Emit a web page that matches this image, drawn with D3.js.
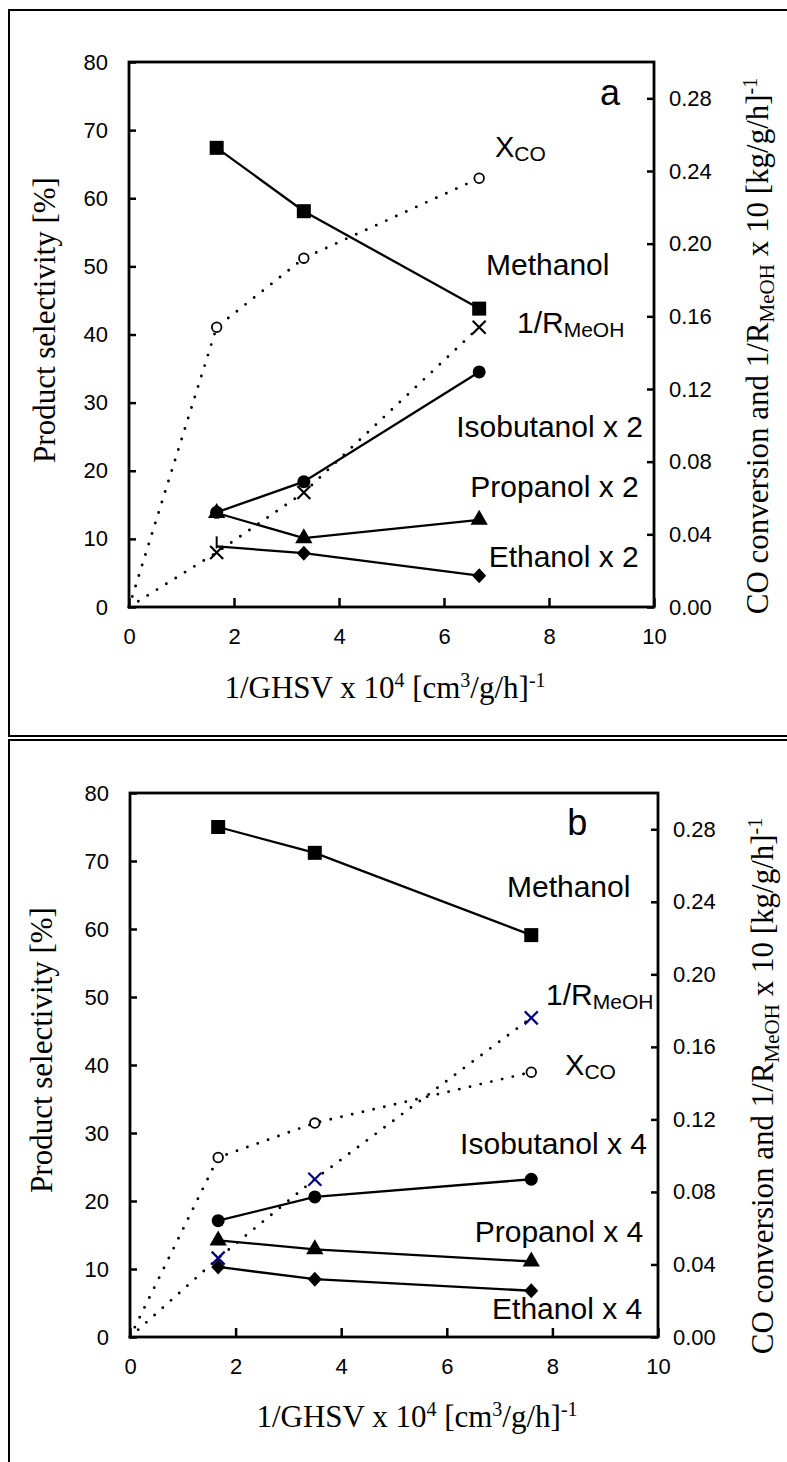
<!DOCTYPE html>
<html>
<head>
<meta charset="utf-8">
<script src="https://cdn.jsdelivr.net/npm/d3@7"></script>
<style>
body { margin: 0; background: #fff; }
svg { display: block; }
.tick text { font-family: "Liberation Sans", Arial, sans-serif; font-size: 22px; fill: #000; }
.tick line { stroke: #000; stroke-width: 2.5; }
.lab { font-family: "Liberation Sans", Arial, sans-serif; fill: #000; }
.ttl { font-family: "Liberation Serif", "Times New Roman", serif; font-size: 31px; fill: #000; }
</style>
</head>
<body>
<svg id="fig" width="787" height="1462"></svg>
<script>
// x tick labels and axis ranges (shared by both panels)
const xTicks = [0, 2, 4, 6, 8, 10];
const leftTicks = [0, 10, 20, 30, 40, 50, 60, 70, 80];
const rightTicks = [0, 0.04, 0.08, 0.12, 0.16, 0.20, 0.24, 0.28];

// panel a : 1/GHSV x 10^4
const xA = [1.67, 3.33, 6.67];
const methanolA = [67.4, 58.1, 43.8];
const isobutanolA = [13.9, 18.4, 34.5];   // x 2
const propanolA = [13.8, 10.1, 12.8];     // x 2
const ethanolA = [8.9, 7.9, 4.6];         // x 2
const xcoA = [0.154, 0.192, 0.236];       // right axis
const invRA = [0.030, 0.063, 0.154];      // right axis

// panel b
const xB = [1.67, 3.5, 7.6];
const methanolB = [75.0, 71.2, 59.1];
const isobutanolB = [17.1, 20.6, 23.2];   // x 4
const propanolB = [14.2, 12.9, 11.1];     // x 4
const ethanolB = [10.3, 8.5, 6.8];        // x 4
const xcoB = [0.099, 0.118, 0.146];
const invRB = [0.0435, 0.087, 0.176];

const svg = d3.select("#fig");

// outer frames (right side runs off the picture)
svg.append("rect").attr("x", 9).attr("y", 10).attr("width", 800).attr("height", 726)
  .attr("fill", "none").attr("stroke", "#000").attr("stroke-width", 2);
svg.append("rect").attr("x", 9).attr("y", 740).attr("width", 800).attr("height", 760)
  .attr("fill", "none").attr("stroke", "#000").attr("stroke-width", 2);

function drawPanel(p) {
  let x = d3.scaleLinear().domain([0, 10]).range([p.left, p.right]);
  let y = d3.scaleLinear().domain([0, 80]).range([p.bottom, p.top]);
  let y2 = d3.scaleLinear().domain([0, 0.30]).range([p.bottom, p.top]);
  let g = svg.append("g");

  // axes, ticks point inward
  g.append("g").attr("transform", `translate(0,${p.bottom})`)
    .call(d3.axisBottom(x).tickValues(xTicks).tickSizeInner(-9).tickSizeOuter(0).tickPadding(21).tickFormat(d3.format("d")))
    .call(a => a.select(".domain").remove());
  g.append("g").attr("transform", `translate(${p.left},0)`)
    .call(d3.axisLeft(y).tickValues(leftTicks).tickSizeInner(-7).tickSizeOuter(0).tickPadding(21))
    .call(a => a.select(".domain").remove());
  g.append("g").attr("transform", `translate(${p.right},0)`)
    .call(d3.axisRight(y2).tickValues(rightTicks).tickSizeInner(-7).tickSizeOuter(0).tickPadding(15).tickFormat(d3.format(".2f")))
    .call(a => a.select(".domain").remove());
  g.selectAll(".tick line").attr("stroke", "#000").attr("stroke-width", 2.5);
  g.append("rect").attr("x", p.left).attr("y", p.top)
    .attr("width", p.right - p.left).attr("height", p.bottom - p.top)
    .attr("fill", "none").attr("stroke", "#000").attr("stroke-width", 2.8);

  // dotted lines from origin (right axis series)
  let dotLine = d3.line().x(d => x(d[0])).y(d => y2(d[1]));
  [p.xco, p.invR].forEach(s => {
    let pts = [[0, 0]].concat(p.xs.map((v, i) => [v, s[i]]));
    g.append("path").datum(pts).attr("d", dotLine)
      .attr("fill", "none").attr("stroke", "#000").attr("stroke-width", 2.9)
      .attr("stroke-dasharray", "0,11").attr("stroke-linecap", "round");
  });

  // solid lines
  let solid = d3.line().x(d => x(d[0])).y(d => y(d[1]));
  let series = [
    { v: p.ethanol, m: p.ethMarks },
    { v: p.propanol, m: ["tri", "tri", "tri"] },
    { v: p.isobutanol, m: ["circ", "circ", "circ"] },
    { v: p.methanol, m: ["sq", "sq", "sq"] }
  ];
  series.forEach(s => {
    let pts = p.xs.map((v, i) => [v, s.v[i]]);
    g.append("path").datum(pts).attr("d", solid)
      .attr("fill", "none").attr("stroke", "#000").attr("stroke-width", 2.3);
  });

  // x marks for 1/R_MeOH
  p.xs.forEach((v, i) => {
    let cx = x(v), cy = y2(p.invR[i]), h = 6.5;
    g.append("path").attr("d", `M${cx - h},${cy - h}L${cx + h},${cy + h}M${cx - h},${cy + h}L${cx + h},${cy - h}`)
      .attr("stroke", p.xColor).attr("stroke-width", 2.2).attr("fill", "none");
  });

  // filled markers
  series.forEach(s => {
    p.xs.forEach((v, i) => {
      let cx = x(v), cy = y(s.v[i]);
      let mk = s.m[i];
      if (mk === "sq") {
        g.append("rect").attr("x", cx - 7).attr("y", cy - 7).attr("width", 14).attr("height", 14).attr("fill", "#000");
      } else if (mk === "circ") {
        g.append("circle").attr("cx", cx).attr("cy", cy).attr("r", 6.5).attr("fill", "#000");
      } else if (mk === "tri") {
        g.append("path").attr("d", d3.symbol(d3.symbolTriangle, 130)()).attr("transform", `translate(${cx},${cy})`).attr("fill", "#000");
      } else if (mk === "dia") {
        g.append("path").attr("d", `M${cx},${cy - 7.5}L${cx + 7},${cy}L${cx},${cy + 7.5}L${cx - 7},${cy}Z`).attr("fill", "#000");
      } else if (mk === "bar") {
        g.append("line").attr("x1", cx).attr("x2", cx).attr("y1", cy - 10).attr("y2", cy + 2)
          .attr("stroke", "#000").attr("stroke-width", 2);
      }
    });
  });

  // open circles for X_CO
  p.xs.forEach((v, i) => {
    g.append("circle").attr("cx", x(v)).attr("cy", y2(p.xco[i])).attr("r", 4.8)
      .attr("fill", "#fff").attr("stroke", "#000").attr("stroke-width", 1.8);
  });

  // annotations (positions in data units)
  p.labels.forEach(l => {
    let t = g.append("text").attr("class", "lab").attr("x", x(l.x)).attr("y", y(l.y))
      .attr("text-anchor", l.anchor).style("font-size", l.size + "px").text(l.main);
    if (l.sub) {
      t.append("tspan").attr("dy", 4).style("font-size", "21px").text(l.sub);
    }
  });

  // axis titles
  let xt = g.append("text").attr("class", "ttl").attr("x", p.xTitle[0]).attr("y", p.xTitle[1]).attr("text-anchor", "middle");
  xt.append("tspan").text("1/GHSV x 10");
  xt.append("tspan").attr("dy", -11).style("font-size", "20px").text("4");
  xt.append("tspan").attr("dy", 11).text(" [cm");
  xt.append("tspan").attr("dy", -11).style("font-size", "20px").text("3");
  xt.append("tspan").attr("dy", 11).text("/g/h]");
  xt.append("tspan").attr("dy", -11).style("font-size", "20px").text("-1");

  g.append("text").attr("class", "ttl").attr("text-anchor", "middle")
    .attr("transform", `translate(${p.yTitle[0]},${p.yTitle[1]}) rotate(-90)`)
    .text("Product selectivity [%]");

  let rt = g.append("text").attr("class", "ttl").attr("text-anchor", "middle")
    .attr("transform", `translate(${p.y2Title[0]},${p.y2Title[1]}) rotate(-90)`);
  rt.append("tspan").text("CO conversion and 1/R");
  rt.append("tspan").attr("dy", 6).style("font-size", "21px").text("MeOH");
  rt.append("tspan").attr("dy", -6).text(" x 10 [kg/g/h]");
  rt.append("tspan").attr("dy", -11).style("font-size", "20px").text("-1");
}

drawPanel({
  left: 129, right: 654, top: 62, bottom: 607,
  xs: xA, methanol: methanolA, isobutanol: isobutanolA, propanol: propanolA, ethanol: ethanolA,
  ethMarks: ["bar", "dia", "dia"], xco: xcoA, invR: invRA, xColor: "#000",
  labels: [
    { main: "a", x: 9.16, y: 73.7, anchor: "middle", size: 36 },
    { main: "X", sub: "CO", x: 6.97, y: 66.1, anchor: "start", size: 29 },
    { main: "Methanol", x: 6.8, y: 48.7, anchor: "start", size: 30 },
    { main: "1/R", sub: "MeOH", x: 7.39, y: 40.2, anchor: "start", size: 30 },
    { main: "Isobutanol x 2", x: 9.79, y: 25.0, anchor: "end", size: 30 },
    { main: "Propanol x 2", x: 9.71, y: 16.1, anchor: "end", size: 30 },
    { main: "Ethanol x 2", x: 9.71, y: 5.9, anchor: "end", size: 30 }
  ],
  xTitle: [385, 698], yTitle: [55, 320], y2Title: [768, 346]
});

drawPanel({
  left: 130, right: 658, top: 793, bottom: 1337,
  xs: xB, methanol: methanolB, isobutanol: isobutanolB, propanol: propanolB, ethanol: ethanolB,
  ethMarks: ["dia", "dia", "dia"], xco: xcoB, invR: invRB, xColor: "#00007f",
  labels: [
    { main: "b", x: 8.47, y: 73.8, anchor: "middle", size: 36 },
    { main: "Methanol", x: 7.14, y: 64.7, anchor: "start", size: 30 },
    { main: "1/R", sub: "MeOH", x: 7.88, y: 48.8, anchor: "start", size: 30 },
    { main: "X", sub: "CO", x: 8.24, y: 38.5, anchor: "start", size: 29 },
    { main: "Isobutanol x 4", x: 9.79, y: 26.9, anchor: "end", size: 30 },
    { main: "Propanol x 4", x: 9.72, y: 14.0, anchor: "end", size: 30 },
    { main: "Ethanol x 4", x: 9.70, y: 2.6, anchor: "end", size: 30 }
  ],
  xTitle: [417, 1427], yTitle: [52, 1050], y2Title: [773, 1086]
});
</script>
</body>
</html>
